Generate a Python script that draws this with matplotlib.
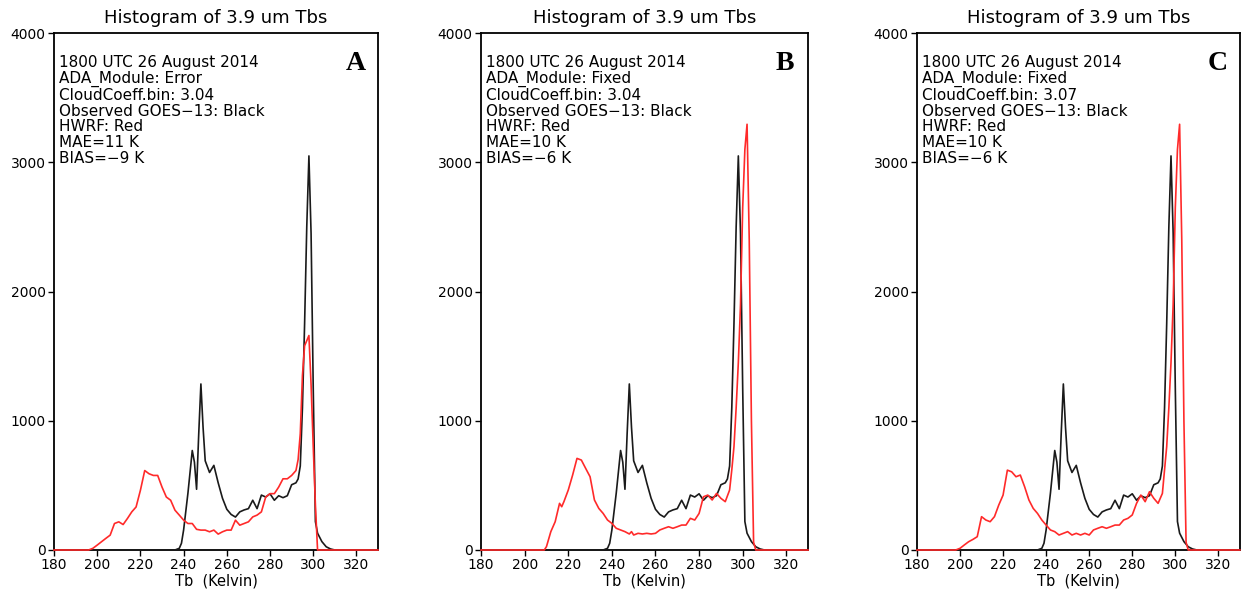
import matplotlib
matplotlib.use('Agg')
import matplotlib.pyplot as plt

# Observed GOES-13 (black), same in all three panels
obs_tb = [180, 236, 238, 239, 240, 242, 244, 245, 246, 247, 248, 249, 250, 252, 254, 256, 258, 260, 262, 264,
          266, 268, 270, 272, 274, 276, 278, 280, 282, 284, 286, 288, 290, 292, 293, 294, 295, 296, 297, 298,
          299, 300, 301, 302, 304, 306, 308, 310, 330]
obs_count = [0, 0, 13, 52, 155, 440, 770, 680, 470, 900, 1285, 950, 690, 600, 655, 520, 400, 315, 275, 255,
             295, 310, 320, 385, 320, 425, 410, 435, 385, 420, 405, 420, 505, 520, 550, 650, 1100, 1750, 2500, 3050,
             2450, 1250, 220, 130, 65, 25, 8, 0, 0]

# HWRF (red), panel A
hwrf_tb_a = [180, 196, 198, 200, 202, 204, 206, 208, 210, 212, 214, 216, 218, 220, 222, 224, 226, 228, 230, 232,
             234, 236, 238, 240, 242, 244, 246, 248, 250, 252, 254, 256, 258, 260, 262, 264, 266, 268, 270, 272,
             274, 276, 278, 280, 282, 284, 286, 288, 290, 292, 293, 294, 295, 296, 297, 298, 299, 300, 301, 302, 330]
hwrf_a = [0, 0, 13, 38, 64, 90, 115, 205, 218, 197, 244, 295, 333, 462, 615, 590, 577, 577, 487, 410,
          385, 308, 270, 231, 205, 205, 160, 154, 154, 141, 154, 123, 141, 154, 154, 231, 192, 205, 218, 256,
          270, 295, 410, 436, 436, 487, 551, 551, 577, 615, 700, 900, 1350, 1580, 1620, 1660, 1280, 800, 350, 0, 0]

# HWRF (red), panel B
hwrf_tb_b = [180, 209, 210, 212, 214, 216, 217, 218, 220, 222, 224, 226, 228, 230, 232, 234, 236, 238, 240, 242,
             244, 246, 248, 249, 250, 252, 254, 256, 258, 260, 262, 264, 266, 268, 270, 272, 274, 276, 278, 280,
             282, 284, 286, 288, 290, 292, 294, 295, 296, 297, 298, 299, 300, 301, 302, 303, 304, 305, 306, 330]
hwrf_b = [0, 0, 26, 142, 219, 361, 335, 374, 464, 580, 709, 696, 631, 567, 387, 322, 283, 232, 206, 168,
          155, 142, 124, 142, 116, 129, 124, 129, 124, 129, 155, 168, 180, 168, 180, 193, 193, 245, 232, 283,
          412, 425, 387, 438, 400, 374, 464, 620, 800, 1100, 1450, 1900, 2650, 3100, 3295, 2400, 1000, 60, 0, 0]

# HWRF (red), panel C
hwrf_tb_c = [180, 198, 200, 202, 204, 206, 208, 209, 210, 212, 214, 216, 218, 220, 222, 224, 226, 228, 230, 232,
             234, 236, 238, 240, 242, 244, 246, 248, 250, 252, 254, 256, 258, 260, 262, 264, 266, 268, 270, 272,
             274, 276, 278, 280, 282, 284, 286, 288, 290, 292, 294, 295, 296, 297, 298, 299, 300, 301, 302, 303,
             304, 305, 306, 330]
hwrf_c = [0, 0, 13, 39, 64, 82, 103, 180, 258, 232, 219, 258, 348, 425, 618, 605, 567, 580, 490, 387,
          322, 283, 232, 193, 155, 142, 116, 129, 142, 116, 129, 116, 129, 116, 155, 168, 180, 168, 180, 193,
          193, 232, 245, 271, 361, 425, 374, 451, 400, 361, 438, 620, 800, 1100, 1450, 1900, 2650, 3100, 3295, 2400,
          1000, 60, 0, 0]

letters = ['A', 'B', 'C']
modules = ['Error', 'Fixed', 'Fixed']
coeffs = ['3.04', '3.04', '3.07']
maes = ['11', '10', '10']
biases = ['\u22129', '\u22126', '\u22126']
x_ticks = [180, 200, 220, 240, 260, 280, 300, 320]
y_ticks = [0, 1000, 2000, 3000, 4000]

red_tb = [hwrf_tb_a, hwrf_tb_b, hwrf_tb_c]
red_count = [hwrf_a, hwrf_b, hwrf_c]

fig = plt.figure(figsize=(12.44, 5.90), dpi=100)
lefts = [0.0434, 0.3867, 0.7371]
widths = [0.2605, 0.2629, 0.2596]

for i in range(3):
    ax = fig.add_axes([lefts[i], 0.0678, widths[i], 0.876])
    ax.plot(obs_tb, obs_count, color='#1a1a1a', lw=1.2, zorder=3, clip_on=False)
    ax.plot(red_tb[i], red_count[i], color='#ff2a2a', lw=1.2, zorder=4, clip_on=False)
    ax.set_xlim(180, 330)
    ax.set_ylim(0, 4000)
    ax.set_xticks(x_ticks)
    ax.set_yticks(y_ticks)
    ax.tick_params(direction='out', length=4, width=1, labelsize=10, pad=2)
    for s in ax.spines.values():
        s.set_linewidth(1.3)
    ax.set_title('Histogram of 3.9 um Tbs', fontsize=13, pad=7)
    ax.set_xlabel('Tb  (Kelvin)', fontsize=10.5, labelpad=1)
    txt = ('1800 UTC 26 August 2014\n'
           'ADA_Module: ' + modules[i] + '\n'
           'CloudCoeff.bin: ' + coeffs[i] + '\n'
           'Observed GOES\u221213: Black\n'
           'HWRF: Red\n'
           'MAE=' + maes[i] + ' K\n'
           'BIAS=' + biases[i] + ' K')
    ax.text(0.016, 0.958, txt, transform=ax.transAxes, ha='left', va='top',
            fontsize=11, linespacing=1.07)
    ax.text(0.93, 0.942, letters[i], transform=ax.transAxes, ha='center', va='center',
            fontsize=20, fontweight='bold', family='Liberation Serif')

fig.savefig('out.png', dpi=100)
